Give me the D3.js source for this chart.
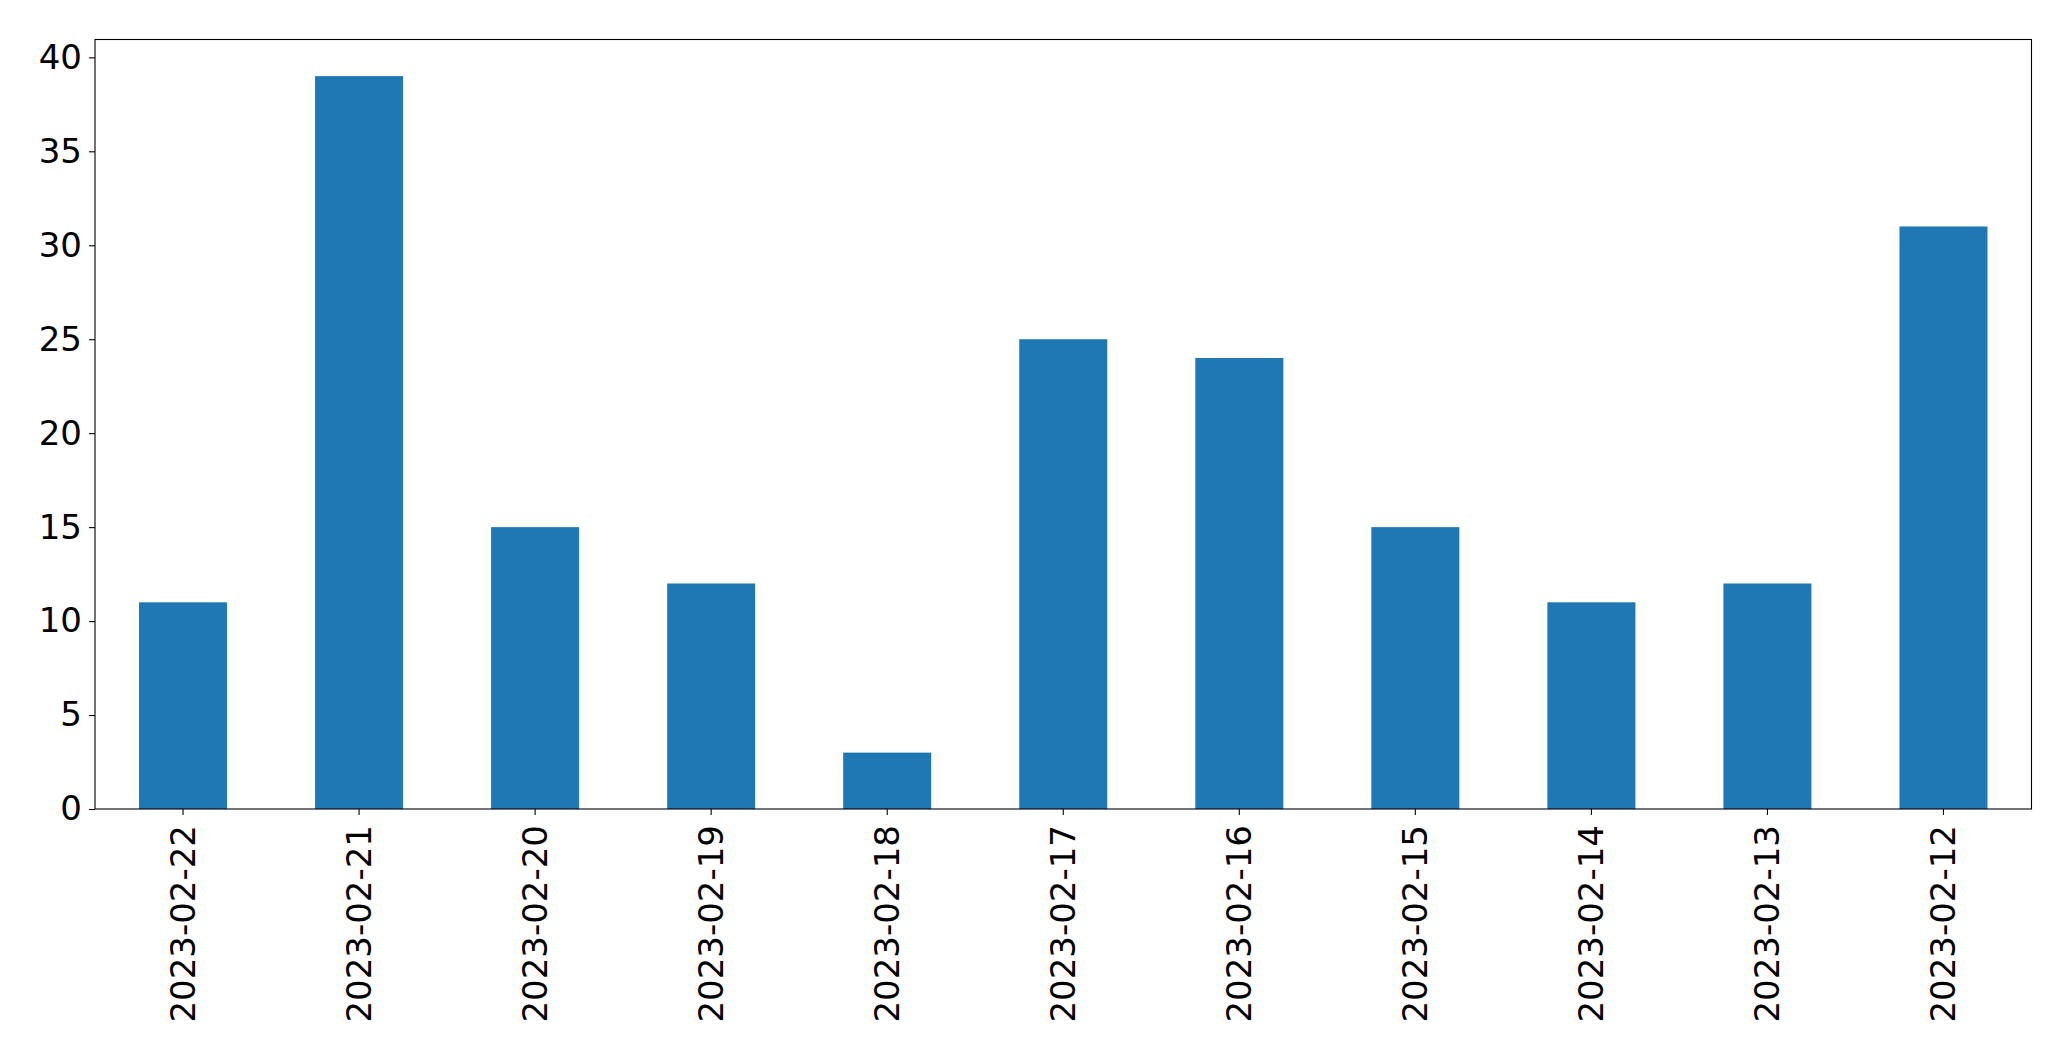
<!DOCTYPE html>
<html><head><meta charset="utf-8">
<script src="https://cdn.jsdelivr.net/npm/d3@7"></script>
<style>body{margin:0;background:#fff}svg{display:block}</style>
</head><body>
<script>
const categories = ["2023-02-22","2023-02-21","2023-02-20","2023-02-19","2023-02-18","2023-02-17","2023-02-16","2023-02-15","2023-02-14","2023-02-13","2023-02-12"];
const values = [11, 39, 15, 12, 3, 25, 24, 15, 11, 12, 31];
const yTicks = [0, 5, 10, 15, 20, 25, 30, 35, 40];

const W = 2071, H = 1061;
const m = {left: 95, right: 2071 - 2031.5, top: 39.5, bottom: H - 809};
const svg = d3.select("body").append("svg").attr("width", W).attr("height", H);
const x = d3.scaleBand().domain(categories).range([m.left, W - m.right]).paddingInner(0.5).paddingOuter(0.25);
const y = d3.scaleLinear().domain([0, d3.max(values) * 1.05]).range([H - m.bottom, m.top]);

svg.append("g").selectAll("rect").data(values).join("rect")
  .attr("x", (d, i) => x(categories[i]))
  .attr("y", d => y(d))
  .attr("width", x.bandwidth())
  .attr("height", d => y(0) - y(d))
  .attr("fill", "#1f77b4");

const font = "DejaVu Sans";
const fs = "34px";
const yAxis = svg.append("g").attr("transform", `translate(${m.left},0)`)
  .call(d3.axisLeft(y).tickValues(yTicks).tickSize(6).tickPadding(7).tickFormat(d3.format("d")));
const xAxis = svg.append("g").attr("transform", `translate(0,${H - m.bottom})`)
  .call(d3.axisBottom(x).tickSize(6).tickPadding(0));
[yAxis, xAxis].forEach(a => {
  a.select(".domain").remove();
  a.selectAll("line").attr("stroke", "#000").attr("stroke-width", 1.1);
  a.selectAll("text").attr("fill", "#000").style("font-family", font).style("font-size", fs);
});
xAxis.selectAll("text")
  .attr("transform", "rotate(-90)")
  .attr("text-anchor", "end")
  .attr("x", -16)
  .attr("y", 0)
  .attr("dy", "0.35em");

svg.append("rect")
  .attr("x", m.left).attr("y", m.top)
  .attr("width", W - m.right - m.left).attr("height", H - m.bottom - m.top)
  .attr("fill", "none").attr("stroke", "#000").attr("stroke-width", 1.1);
</script>
</body></html>
